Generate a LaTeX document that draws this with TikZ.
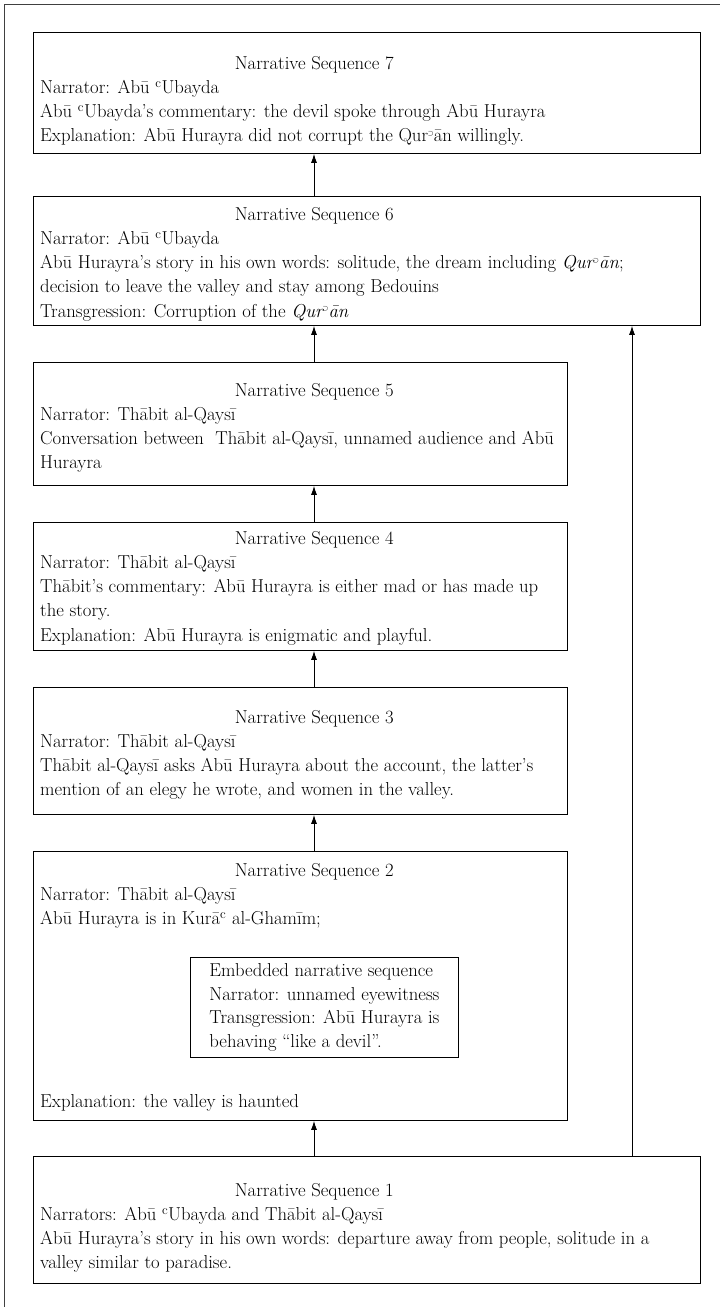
\documentclass[tikz,border=0pt]{standalone}
\usepackage{tikz}
\usetikzlibrary{arrows.meta,positioning,calc}

\newcommand{\ayn}{\textsuperscript{c}}
\newcommand{\hamza}{\kern-0.5pt\textsuperscript{$\scriptscriptstyle\supset$}\kern-0.5pt}
\newcommand{\ttl}[1]{\makebox[548pt][c]{#1}}

\begin{document}
\begin{tikzpicture}[x=1pt,y=-1pt,
  seq/.style={draw,line width=0.9pt,anchor=north west,inner sep=0pt},
  txt/.style={anchor=north west,inner sep=0pt,align=left,font=\fontsize{18.7}{24.2}\selectfont},
  emb/.style={draw,line width=0.9pt,anchor=north west,inner xsep=7pt,inner ysep=0pt,
    minimum width=268pt,minimum height=100pt,align=left,
    font=\fontsize{18.7}{23.5}\selectfont},
  up/.style={-{Latex[length=9pt,width=6pt]},line width=0.8pt}]
  \useasboundingbox (0,0) rectangle (720,1307);
  \draw[line width=0.9pt,black!75] (4,1307) -- (4,4) -- (720,4);

  % the seven boxes
  \node[seq,minimum width=667pt,minimum height=121pt] (s7) at (33,32) {};
  \node[seq,minimum width=667pt,minimum height=129pt] (s6) at (33,196) {};
  \node[seq,minimum width=534pt,minimum height=123pt] (s5) at (33,362) {};
  \node[seq,minimum width=534pt,minimum height=128pt] (s4) at (33,522) {};
  \node[seq,minimum width=534pt,minimum height=127pt] (s3) at (33,687) {};
  \node[seq,minimum width=534pt,minimum height=269pt] (s2) at (33,851) {};
  \node[seq,minimum width=667pt,minimum height=127pt] (s1) at (33,1156) {};

  % their texts
  \node[txt] (t7) at (40,56) {\ttl{Narrative Sequence 7}\\
    Narrator: Abū \ayn Ubayda\\
    Abū \ayn Ubayda's commentary: the devil spoke through Abū Hurayra\\
    Explanation: Abū Hurayra did not corrupt the Qur\hamza ān willingly.};
  \node[txt] (t6) at (40,207) {\ttl{Narrative Sequence 6}\\
    Narrator: Abū \ayn Ubayda\\
    Abū Hurayra's story in his own words: solitude, the dream including \textit{Qur\hamza ān};\\
    decision to leave the valley and stay among Bedouins\\
    Transgression: Corruption of the \textit{Qur\hamza ān}};
  \node[txt] (t5) at (40,383) {\ttl{Narrative Sequence 5}\\
    Narrator: Thābit al-Qaysī\\
    Conversation between~ Thābit al-Qaysī, unnamed audience and Abū\\
    Hurayra};
  \node[txt] (t4) at (40,531) {\ttl{Narrative Sequence 4}\\
    Narrator: Thābit al-Qaysī\\
    Thābit's commentary: Abū Hurayra is either mad or has made up\\
    the story.\\
    Explanation: Abū Hurayra is enigmatic and playful.};
  \node[txt] (t3) at (40,710) {\ttl{Narrative Sequence 3}\\
    Narrator: Thābit al-Qaysī\\
    Thābit al-Qaysī asks Abū Hurayra about the account, the latter's\\
    mention of an elegy he wrote, and women in the valley.};
  \node[txt] (t2) at (40,863) {\ttl{Narrative Sequence 2}\\
    Narrator: Thābit al-Qaysī\\
    Abū Hurayra is in Kurā\ayn{} al-Ghamīm;};
  \node[emb] (e2) at (190,957) {Embedded narrative sequence\\
    Narrator: unnamed eyewitness\\
    Transgression: Abū Hurayra is\\
    behaving ``like a devil''.};
  \node[txt] (x2) at (40,1094) {Explanation: the valley is haunted};
  \node[txt] (t1) at (40,1183) {\ttl{Narrative Sequence 1}\\
    Narrators: Abū \ayn Ubayda and Thābit al-Qaysī\\
    Abū Hurayra's story in his own words: departure away from people, solitude in a\\
    valley similar to paradise.};

  % arrows
  \coordinate (mid) at (314,0);
  \coordinate (side) at (632,0);
  \draw[up] (s1.north -| mid) -- (s2.south -| mid);
  \draw[up] (s2.north -| mid) -- (s3.south -| mid);
  \draw[up] (s3.north -| mid) -- (s4.south -| mid);
  \draw[up] (s4.north -| mid) -- (s5.south -| mid);
  \draw[up] (s5.north -| mid) -- (s6.south -| mid);
  \draw[up] (s6.north -| mid) -- (s7.south -| mid);
  \draw[up] (s1.north -| side) -- (s6.south -| side);
\end{tikzpicture}
\end{document}
